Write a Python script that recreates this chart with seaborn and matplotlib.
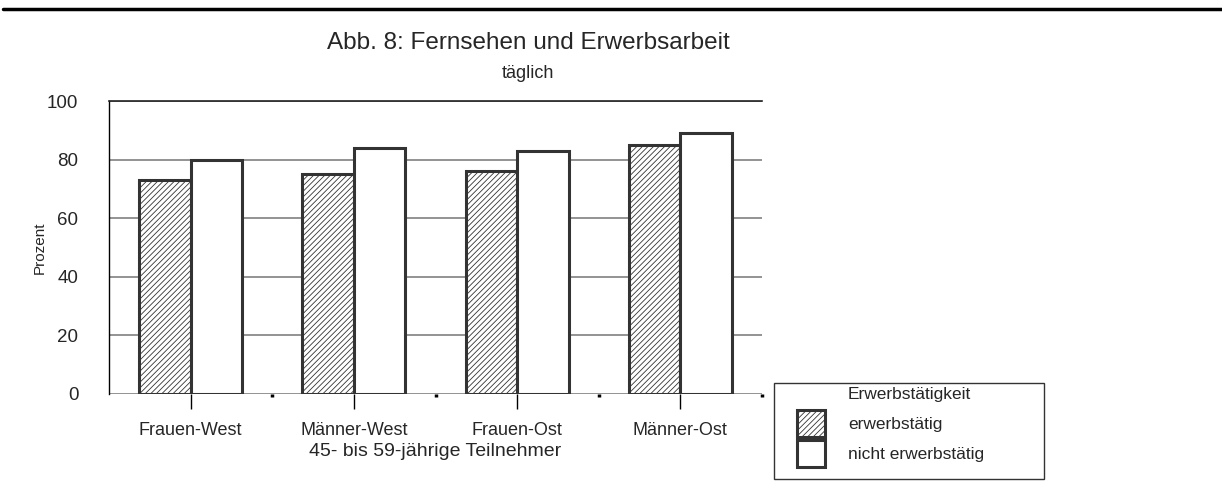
import matplotlib
matplotlib.use("Agg")
import matplotlib.pyplot as plt
import matplotlib.patches as mpatches
from matplotlib.legend_handler import HandlerPatch
import seaborn as sns
import pandas as pd

# data
gruppen = ["Frauen-West", "Männer-West", "Frauen-Ost", "Männer-Ost"]
erwerbstaetig = [73, 75, 76, 85]
nicht_erwerbstaetig = [80, 84, 83, 89]
serien = ["erwerbstätig", "nicht erwerbstätig"]

df = pd.DataFrame({
    "Gruppe": gruppen * 2,
    "Prozent": erwerbstaetig + nicht_erwerbstaetig,
    "Status": [serien[0]] * 4 + [serien[1]] * 4,
})

sns.set_style("white")
plt.rcParams["font.family"] = ["Liberation Sans", "DejaVu Sans"]
plt.rcParams["hatch.linewidth"] = 0.6
plt.rcParams["hatch.color"] = "#333333"

W, H = 1222, 495
fig = plt.figure(figsize=(W / 100, H / 100), dpi=100)
ax = fig.add_axes([109 / W, 1 - 394 / H, 653 / W, 293 / H])

sns.barplot(data=df, x="Gruppe", y="Prozent", hue="Status", hue_order=serien,
            order=gruppen, palette=["white", "white"], width=0.63,
            edgecolor="#333333", linewidth=2.2, ax=ax, legend=False, zorder=3)

n = len(gruppen)
for i, p in enumerate(ax.patches[:2 * n]):
    if i < n:
        p.set_hatch("//////")

ax.set_ylim(0, 100)
ax.set_yticks(range(0, 101, 20))
ax.yaxis.grid(True, color="#808080", linewidth=1.2, zorder=0)
ax.set_axisbelow(True)
for s in ["right", "bottom"]:
    ax.spines[s].set_visible(False)
ax.spines["top"].set_color("#222222")
ax.spines["top"].set_linewidth(1.2)
ax.spines["left"].set_color("black")
ax.spines["left"].set_linewidth(1)
ax.tick_params(axis="y", length=13, width=1.2, color="#808080", labelsize=13.5, pad=9)
ax.set_xticks(range(n))
ax.set_xticklabels(gruppen)
ax.set_xticks([k + 0.5 for k in range(n)], minor=True)
ax.tick_params(axis="x", which="major", length=11, width=1, color="black",
               labelsize=13, pad=9, bottom=True)
ax.tick_params(axis="x", which="minor", length=2, width=2.5, color="black", bottom=True)
ax.set_xlim(-0.5, n - 0.5)

ax.set_ylabel("Prozent", fontsize=11, labelpad=0)
ax.set_xlabel("45- bis 59-jährige Teilnehmer", fontsize=14, labelpad=3)

fig.text(528 / W, 1 - 43 / H, "Abb. 8: Fernsehen und Erwerbsarbeit",
         ha="center", va="center", fontsize=17.5)
fig.text(528 / W, 1 - 74 / H, "täglich", ha="center", va="center", fontsize=13)

# top rule
fig.add_artist(plt.Line2D([3 / W, 1], [1 - 9 / H] * 2, color="black", linewidth=2.5))


# legend swatch shifted to the right inside its handle box
def swatch(legend, orig_handle, xdescent, ydescent, width, height, fontsize):
    w = 1.6 * fontsize
    return mpatches.Rectangle((-xdescent + width - w, -ydescent), w, height)


handles = [
    mpatches.Patch(facecolor="white", edgecolor="#333333", linewidth=2.2, hatch="//////", label=serien[0]),
    mpatches.Patch(facecolor="white", edgecolor="#333333", linewidth=2.2, label=serien[1]),
]
leg = fig.legend(handles=handles, title="Erwerbstätigkeit", loc="upper left",
                 bbox_to_anchor=(774 / W, 1 - 383 / H - 0.01, 270 / W, 0.01), mode="expand",
                 fontsize=12.5, title_fontsize=12.5, frameon=True, fancybox=False,
                 edgecolor="black", handlelength=2.7, handleheight=2.02,
                 labelspacing=0.17, borderpad=0.25, handletextpad=1.3,
                 borderaxespad=0,
                 handler_map={mpatches.Patch: HandlerPatch(patch_func=swatch)})
leg.get_frame().set_linewidth(1)
leg._legend_box.align = "center"
leg._legend_box.sep = 0
leg._legend_handle_box.pad = 5.5

fig.savefig("out.png", dpi=100)
